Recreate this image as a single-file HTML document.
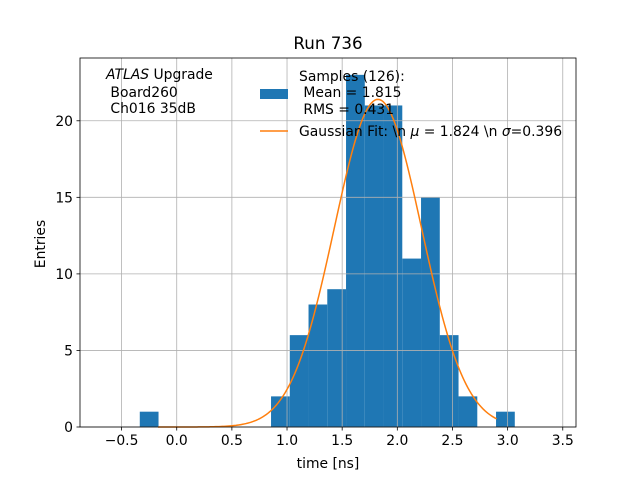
<!DOCTYPE html>
<html><head><meta charset="utf-8"><style>
body{margin:0;background:#fff}
svg text{font-family:"DejaVu Sans","Liberation Sans",sans-serif;fill:#000}
</style></head><body>
<svg id="chart" width="640" height="480" xmlns="http://www.w3.org/2000/svg">
<rect width="640" height="480" fill="#fff"/>
<g id="bars"></g>
<g id="grid"></g>
<path id="fit" fill="none" stroke="#ff7f0e" stroke-width="1.5"/>
<rect x="80" y="58" width="496" height="369" fill="none" stroke="#000" stroke-width="0.8"/>
<g id="ticks"></g>
<text x="328" y="49" font-size="16.7" text-anchor="middle">Run 736</text>
<text x="328" y="468" font-size="13.9" text-anchor="middle">time [ns]</text>
<text x="45" y="244" font-size="13.9" text-anchor="middle" transform="rotate(-90 45 244)">Entries</text>
<g font-size="13.9">
<text x="106" y="79"><tspan font-style="italic">ATLAS</tspan> Upgrade</text>
<text x="106" y="97" xml:space="preserve"> Board260</text>
<text x="106" y="113" xml:space="preserve"> Ch016 35dB</text>
</g>
<g font-size="13.9">
<rect x="260" y="89" width="28" height="10" fill="#1f77b4"/>
<text x="299" y="81">Samples (126):</text>
<text x="299" y="97" xml:space="preserve"> Mean = 1.815</text>
<text x="299" y="114" xml:space="preserve"> RMS = 0.431</text>
<line x1="260" y1="131" x2="288" y2="131" stroke="#ff7f0e" stroke-width="1.5"/>
<text x="299" y="136">Gaussian Fit: \n <tspan font-style="italic">μ</tspan> = 1.824 \n <tspan font-style="italic">σ</tspan>=0.396</text>
</g>
</svg>
<script>
const binStart = -0.335;
const binWidth = 0.170;
const counts = [1,0,0,0,0,0,0,2,6,8,9,23,21,21,11,15,6,2,0,1];
const xTicks = [-0.5,0,0.5,1,1.5,2,2.5,3,3.5];
const xTickLabels = ["\u22120.5","0.0","0.5","1.0","1.5","2.0","2.5","3.0","3.5"];
const yTicks = [0,5,10,15,20];
const fitMu = 1.824, fitSigma = 0.396, fitAmp = 21.4;
const fitRange = [-0.17, 2.9];

const X0=80,X1=576,Y0=427,Y1=58,xmin=-0.877,xmax=3.62,ymin=0,ymax=24.1;
const sx=v=>X0+(v-xmin)/(xmax-xmin)*(X1-X0);
const sy=v=>Y0-(v-ymin)/(ymax-ymin)*(Y0-Y1);
const NS="http://www.w3.org/2000/svg";
const mk=(t,a,p)=>{const e=document.createElementNS(NS,t);for(const k in a)e.setAttribute(k,a[k]);p.appendChild(e);return e;};
const grid=document.getElementById('grid'),ticks=document.getElementById('ticks'),bars=document.getElementById('bars');
counts.forEach((c,i)=>{if(!c)return;const x=sx(binStart+i*binWidth),x2=sx(binStart+(i+1)*binWidth);
const r=mk('rect',{x:x,y:sy(c),width:x2-x,height:Y0-sy(c),fill:'#1f77b4'},bars);

});
xTicks.forEach((t,i)=>{const x=sx(t);
mk('line',{x1:x,x2:x,y1:Y1,y2:Y0,stroke:'#b0b0b0','stroke-width':0.8},grid);
mk('line',{x1:x,x2:x,y1:Y0,y2:Y0+3.5,stroke:'#000','stroke-width':0.8},ticks);
const tx=mk('text',{x:x,y:Y0+18,'font-size':13.9,'text-anchor':'middle'},ticks);tx.textContent=xTickLabels[i];

});
yTicks.forEach(t=>{const y=sy(t);
mk('line',{x1:X0,x2:X1,y1:y,y2:y,stroke:'#b0b0b0','stroke-width':0.8},grid);
mk('line',{x1:X0-3.5,x2:X0,y1:y,y2:y,stroke:'#000','stroke-width':0.8},ticks);
const tx=mk('text',{x:X0-7,y:y+5,'font-size':13.9,'text-anchor':'end'},ticks);tx.textContent=t;

});
let d='';for(let k=0;k<=200;k++){const v=fitRange[0]+(fitRange[1]-fitRange[0])*k/200;
const f=fitAmp*Math.exp(-0.5*((v-fitMu)/fitSigma)**2);d+=(k?'L':'M')+sx(v).toFixed(2)+','+sy(f).toFixed(2);}
document.getElementById('fit').setAttribute('d',d);
</script>
</body></html>
